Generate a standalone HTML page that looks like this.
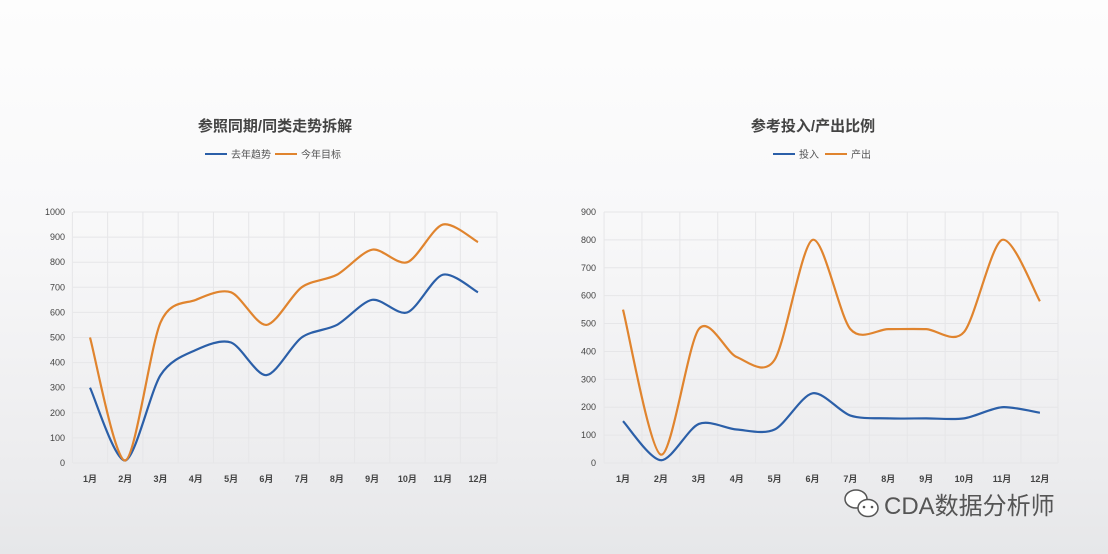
<!DOCTYPE html>
<html><head><meta charset="utf-8"><style>
body{margin:0;width:1108px;height:554px;overflow:hidden;background:linear-gradient(#fdfdfd 0%,#f8f8f9 40%,#ececee 85%,#e6e7e9 100%);font-family:"Liberation Sans","Noto Sans CJK SC",sans-serif;}
svg{position:absolute;left:0;top:0}
</style></head><body>
<svg id="s" width="1108" height="554" xmlns="http://www.w3.org/2000/svg" font-family="Liberation Sans, Noto Sans CJK SC, sans-serif">
<text x="275" y="131" text-anchor="middle" font-size="15" font-weight="bold" fill="#444">参照同期/同类走势拆解</text>
<line x1="205" y1="154" x2="227" y2="154" stroke="#2b5fa8" stroke-width="2"/>
<text x="231" y="158" font-size="10" fill="#555">去年趋势</text>
<line x1="275" y1="154" x2="297" y2="154" stroke="#e0842e" stroke-width="2"/>
<text x="301" y="158" font-size="10" fill="#555">今年目标</text>
<text x="813" y="131" text-anchor="middle" font-size="15" font-weight="bold" fill="#444">参考投入/产出比例</text>
<line x1="773" y1="154" x2="795" y2="154" stroke="#2b5fa8" stroke-width="2"/>
<text x="799" y="158" font-size="10" fill="#555">投入</text>
<line x1="825" y1="154" x2="847" y2="154" stroke="#e0842e" stroke-width="2"/>
<text x="851" y="158" font-size="10" fill="#555">产出</text>
<g id="g"></g>
<ellipse cx="856" cy="499" rx="11" ry="9" fill="#fff" stroke="#555" stroke-width="1.5"/>
<ellipse cx="868" cy="508" rx="10" ry="8.5" fill="#fff" stroke="#555" stroke-width="1.5"/>
<circle cx="864" cy="507" r="1.3" fill="#555"/><circle cx="872" cy="507" r="1.3" fill="#555"/>
<text x="884" y="514" font-size="24" fill="#555">CDA数据分析师</text>
</svg>
<script>
var g=document.getElementById('g'),h='';
function chart(x0,x1,first,step,y0,ymax,max,tickStep,series){
  var k=(y0-ymax)/max;
  for(var v=0;v<=max;v+=tickStep){var y=y0-v*k;
    h+='<line x1="'+x0+'" x2="'+x1+'" y1="'+y+'" y2="'+y+'" stroke="#e6e6e8" stroke-width="1"/>';
    h+='<text x="'+(x0-8)+'" y="'+(y+3)+'" text-anchor="end" font-size="9" fill="#444">'+v+'</text>';}
  for(var i=0;i<=12;i++){var x=first-step/2+i*step;if(i==12)x=x1;
    h+='<line x1="'+x+'" x2="'+x+'" y1="'+ymax+'" y2="'+y0+'" stroke="#e6e6e8"/>';}
  for(var i=0;i<12;i++){h+='<text x="'+(first+i*step)+'" y="'+(y0+19)+'" text-anchor="middle" font-size="9" font-weight="bold" fill="#444">'+(i+1)+'月</text>';}
  series.forEach(function(s){
    var p=s.d.map(function(v,i){return [first+i*step,y0-v*k]});
    var d='M'+p[0][0]+','+p[0][1],t=7;
    for(var i=0;i<p.length-1;i++){var a=p[i-1]||p[i],b=p[i],c=p[i+1],e=p[i+2]||c;
      d+=' C'+(b[0]+(c[0]-a[0])/t)+','+(b[1]+(c[1]-a[1])/t)+' '+(c[0]-(e[0]-b[0])/t)+','+(c[1]-(e[1]-b[1])/t)+' '+c[0]+','+c[1];}
    h+='<path d="'+d+'" fill="none" stroke="'+s.c+'" stroke-width="2.2"/>';
  });
}
chart(73,497,90,35.27,463,212,1000,100,[
 {c:'#2b5fa8',d:[300,10,350,450,480,350,500,550,650,600,750,680]},
 {c:'#e0842e',d:[500,10,560,650,680,550,700,750,850,800,950,880]}]);
chart(604,1058,623,37.9,463,212,900,100,[
 {c:'#2b5fa8',d:[150,10,140,120,120,250,170,160,160,160,200,180]},
 {c:'#e0842e',d:[550,30,480,380,370,800,480,480,480,470,800,580]}]);
g.innerHTML=h;
</script>
</body></html>
